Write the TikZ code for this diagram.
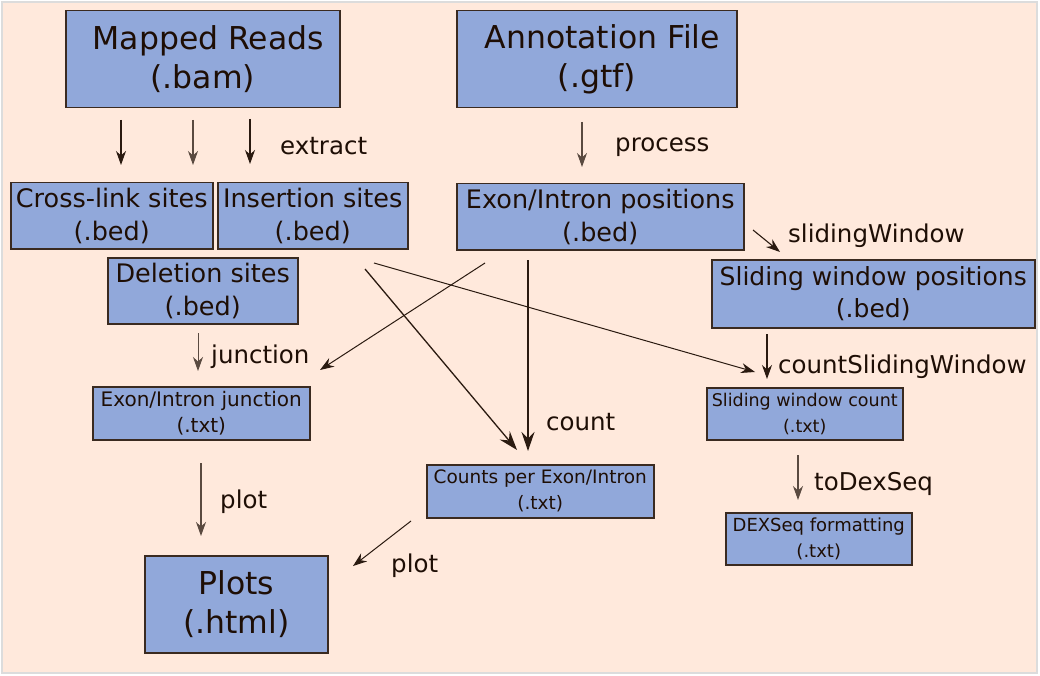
\documentclass[tikz,border=0pt]{standalone}
\usepackage{fontspec}
\setmainfont{DejaVu Sans}
\usetikzlibrary{arrows.meta}
\definecolor{bg}{HTML}{FFE9DC}
\definecolor{frame}{HTML}{DCDCDC}
\definecolor{boxfill}{HTML}{91A8DA}
\definecolor{boxline}{HTML}{3A2A20}
\definecolor{txt}{HTML}{1E0E05}
\definecolor{arrowc}{HTML}{2A1A10}
\definecolor{arrowl}{HTML}{5A4A40}
\tikzset{
  box/.style={draw=boxline, fill=boxfill, line width=1.5pt, text=txt, align=center,
              inner sep=0pt, anchor=north west},
  bigtext/.style={font=\fontsize{31.5}{39}\selectfont},
  midtext/.style={font=\fontsize{25.5}{32.5}\selectfont},
  smalltext/.style={font=\fontsize{18.5}{26}\selectfont},
  lbl/.style={text=txt, anchor=base west, inner sep=0pt, font=\fontsize{24.5}{30}\selectfont},
  arr/.style={draw=arrowc, line width=1.1pt, -{Stealth[length=14pt,width=10pt,inset=4.5pt]}},
  arrthick/.style={draw=arrowc, line width=1.3pt, -{Stealth[length=19pt,width=13pt,inset=6.5pt]}},
}
\begin{document}
\begin{tikzpicture}[x=1pt,y=-1pt]
\useasboundingbox (0,0) rectangle (1040,676);
\fill[white] (0,0) rectangle (1040,676);
\draw[frame, fill=bg, line width=1.5pt] (2,2) rectangle (1037,673);

% boxes
\node[box, bigtext, minimum width=274pt, minimum height=97pt] (mapped) at (65,10) {\hspace*{11pt}Mapped Reads\\(.bam)};
\node[box, bigtext, minimum width=280pt, minimum height=97pt] (annot) at (456,10) {\hspace*{11pt}Annotation File\\(.gtf)};
\node[box, midtext, minimum width=202pt, minimum height=66pt] (cross) at (10,182) {Cross-link sites\\(.bed)};
\node[box, midtext, minimum width=190pt, minimum height=66pt] (ins) at (217,182) {Insertion sites\\(.bed)};
\node[box, midtext, minimum width=190pt, minimum height=66pt] (del) at (107,257) {Deletion sites\\(.bed)};
\node[box, midtext, minimum width=287pt, minimum height=66pt] (expos) at (456,183) {Exon/Intron positions\\(.bed)};
\node[box, font=\fontsize{25}{32.5}\selectfont, minimum width=323pt, minimum height=68pt] (swpos) at (711,259) {Sliding window positions\\(.bed)};
\node[box, font=\fontsize{20}{26}\selectfont, minimum width=217pt, minimum height=53pt] (junc) at (92,386) {Exon/Intron junction\\(.txt)};
\node[box, font=\fontsize{17.5}{26}\selectfont, minimum width=196pt, minimum height=52pt] (swcount) at (706,387) {Sliding window count\\(.txt)};
\node[box, smalltext, minimum width=227pt, minimum height=53pt] (counts) at (426,464) {Counts per Exon/Intron\\(.txt)};
\node[box, font=\fontsize{18}{26}\selectfont, minimum width=186pt, minimum height=52pt] (dex) at (725,512) {DEXSeq formatting\\(.txt)};
\node[box, bigtext, minimum width=183pt, minimum height=97pt] (plots) at (144,555) {Plots\\(.html)};

% arrow end points
\coordinate (e1s) at (121,120); \coordinate (e1e) at (121,165);
\coordinate (e2s) at (193,120); \coordinate (e2e) at (193,165);
\coordinate (e3s) at (250,119); \coordinate (e3e) at (250,164);
\coordinate (ps) at (582,122); \coordinate (pe) at (582,167);
\coordinate (sws) at (753,230); \coordinate (swe) at (780,252);
\coordinate (csws) at (767,334); \coordinate (cswe) at (767,379);
\coordinate (tds) at (798,455); \coordinate (tde) at (798,500);
\coordinate (js) at (198,333); \coordinate (je) at (198,371);
\coordinate (pjs) at (485,263); \coordinate (pje) at (320,370);
\coordinate (ics) at (365,269); \coordinate (ice) at (517,450);
\coordinate (pcs) at (528,260); \coordinate (pce) at (528,451);
\coordinate (iss) at (374,263); \coordinate (ise) at (755,372);
\coordinate (pls) at (201,463); \coordinate (ple) at (201,536);
\coordinate (prs) at (411,521); \coordinate (pre) at (353,566);

% arrows
\draw[arr] (e1s) -- (e1e);
\draw[arr, draw=arrowl] (e2s) -- (e2e);
\draw[arr] (e3s) -- (e3e);
\draw[arr, draw=arrowl] (ps) -- (pe);
\draw[arr] (sws) -- (swe);
\draw[arr] (csws) -- (cswe);
\draw[arr, draw=arrowl] (tds) -- (tde);
\draw[arr, draw=arrowl, line width=0.9pt] (js) -- (je);
\draw[arr, line width=1pt] (pjs) -- (pje);
\draw[arrthick] (ics) -- (ice);
\draw[arrthick] (pcs) -- (pce);
\draw[arr, line width=1pt] (iss) -- (ise);
\draw[arr, draw=arrowl, line width=1.3pt] (pls) -- (ple);
\draw[arr, line width=1pt] (prs) -- (pre);

% labels
\node[lbl] (lextract) at (280,155) {extract};
\node[lbl] (lprocess) at (615,152) {process};
\node[lbl] (lsw) at (788,243) {slidingWindow};
\node[lbl] (lcsw) at (778,373) {countSlidingWindow};
\node[lbl] (ltds) at (814,490) {toDexSeq};
\node[lbl] (ljunc) at (211,363) {junction};
\node[lbl] (lcount) at (546,430) {count};
\node[lbl] (lplot1) at (220,508) {plot};
\node[lbl] (lplot2) at (391,572) {plot};
\end{tikzpicture}
\end{document}
